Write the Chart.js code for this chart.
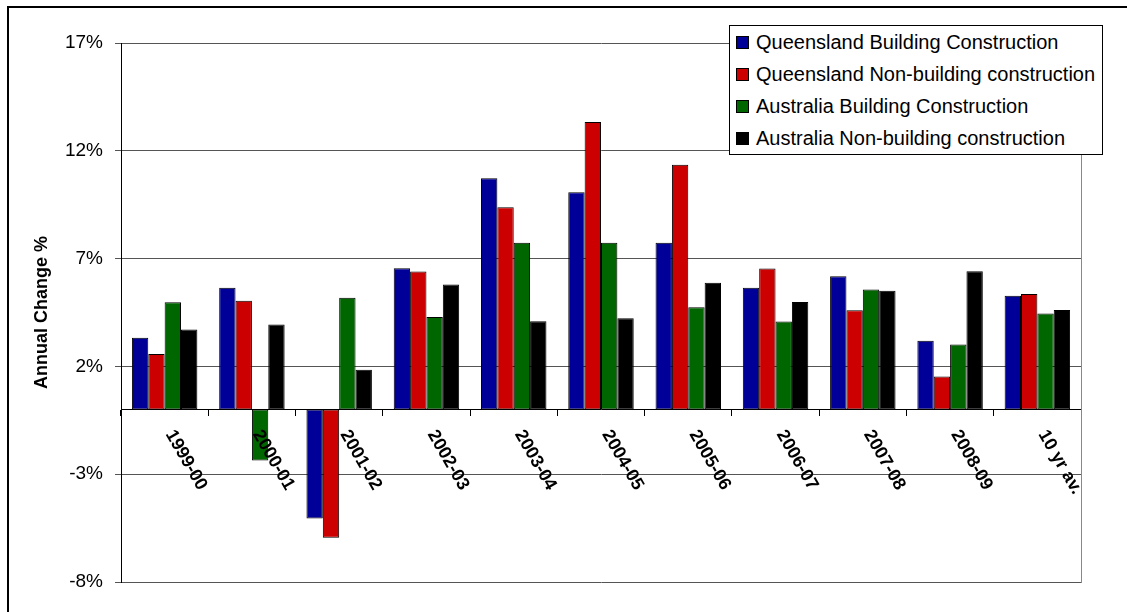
<!DOCTYPE html>
<html>
<head>
<meta charset="utf-8">
<script src="https://cdn.jsdelivr.net/npm/chart.js@4.4.0/dist/chart.umd.min.js"></script>
<style>
    body { margin: 0; background: #fff; font-family: 'Liberation Sans', Arial, sans-serif; }
    #wrap { position: relative; width: 1127px; height: 612px; overflow: hidden; background: #fff; }
    #frame { position: absolute; left: 7px; top: 6px; width: 2000px; height: 2000px; border-top: 2px solid #000; border-left: 2px solid #000; }
    #chartCanvas { position: absolute; left: 0; top: 0; }
    #legend { position: absolute; left: 729px; top: 25px; width: 372px; height: 128px; border: 1px solid #000; background: #fff; }
    .leg-row { position: absolute; left: 6px; height: 24px; display: flex; align-items: center; font-size: 20px; color: #000; white-space: nowrap; }
    .leg-swatch { width: 11px; height: 11px; border: 1px solid #000; margin-right: 7px; }
</style>
</head>
<body>
<div id="wrap">
    <div id="frame"></div>
    <canvas id="chartCanvas" width="1127" height="612"></canvas>
    <div id="legend"></div>
</div>
<script>
const categories = ['1999-00', '2000-01', '2001-02', '2002-03', '2003-04', '2004-05', '2005-06', '2006-07', '2007-08', '2008-09', '10 yr av.'];
const qldBuilding = [3.33, 5.65, -5.06, 6.55, 10.73, 10.08, 7.73, 5.65, 6.18, 3.19, 5.28];
const qldNonBuilding = [2.57, 5.05, -5.95, 6.40, 9.38, 13.34, 11.35, 6.54, 4.60, 1.53, 5.36];
const ausBuilding = [4.97, -2.36, 5.18, 4.29, 7.73, 7.73, 4.74, 4.08, 5.57, 3.02, 4.45];
const ausNonBuilding = [3.71, 3.94, 1.85, 5.80, 4.09, 4.23, 5.88, 4.99, 5.51, 6.41, 4.62];
const yTicks = [-8, -3, 2, 7, 12, 17];

const seriesNames = [
    'Queensland Building Construction',
    'Queensland Non-building construction',
    'Australia Building Construction',
    'Australia Non-building construction'
];
const seriesColors = ['#000099', '#cc0000', '#006600', '#000000'];
const seriesData = [qldBuilding, qldNonBuilding, ausBuilding, ausNonBuilding];

const fontFamily = "'Liberation Sans', Arial, sans-serif";
Chart.defaults.font.family = fontFamily;
Chart.defaults.color = '#000';

// legend box drawn as html on top of the plot, like the original
const legendEl = document.getElementById('legend');
seriesNames.forEach((name, i) => {
    const row = document.createElement('div');
    row.className = 'leg-row';
    row.style.top = (4 + i * 32.2) + 'px';
    row.innerHTML = `<span class="leg-swatch" style="background:${seriesColors[i]}"></span><span>${name}</span>`;
    legendEl.appendChild(row);
});

// category labels rotated clockwise, hanging below the zero line
const xLabelPlugin = {
    id: 'xLabels',
    afterDraw(chart) {
        const { ctx, scales: { x, y } } = chart;
        const y0 = y.getPixelForValue(0);
        ctx.save();
        ctx.font = `bold 18px ${fontFamily}`;
        ctx.fillStyle = '#000';
        ctx.textAlign = 'left';
        ctx.textBaseline = 'middle';
        categories.forEach((label, i) => {
            ctx.save();
            ctx.translate(x.getPixelForValue(i) + 5, y0 + 22);
            ctx.rotate(Math.PI / 3);
            ctx.fillText(label, 0, 0);
            ctx.restore();
        });
        ctx.restore();
    }
};

const ctx = document.getElementById('chartCanvas').getContext('2d');
new Chart(ctx, {
    type: 'bar',
    data: {
        labels: categories,
        datasets: seriesData.map((data, i) => ({
            label: seriesNames[i],
            data: data,
            backgroundColor: seriesColors[i],
            borderColor: '#000',
            borderWidth: 1,
            borderSkipped: false,
            categoryPercentage: 0.75,
            barPercentage: 1
        }))
    },
    options: {
        responsive: false,
        animation: false,
        devicePixelRatio: 1,
        layout: {
            padding: { left: 0, top: 43, right: 46, bottom: 30 }
        },
        plugins: {
            legend: { display: false },
            tooltip: { enabled: false }
        },
        scales: {
            x: {
                position: { y: 0 },
                offset: true,
                grid: {
                    display: true,
                    drawOnChartArea: false,
                    drawTicks: true,
                    tickLength: 6,
                    offset: true,
                    color: '#000'
                },
                border: { display: true, color: '#000', width: 1 },
                ticks: { display: false }
            },
            y: {
                min: -8,
                max: 17,
                afterBuildTicks: s => { s.ticks = yTicks.map(v => ({ value: v })); },
                afterFit: s => { s.width = 121; },
                grid: { color: '#555', tickLength: 6, drawTicks: true },
                border: { color: '#000', width: 1 },
                ticks: {
                    padding: 12,
                    color: '#000',
                    font: { size: 19 },
                    callback: v => v + '%'
                },
                title: {
                    display: true,
                    text: 'Annual Change %',
                    color: '#000',
                    font: { size: 18, weight: 'bold' },
                    padding: { top: 31, bottom: 0 }
                }
            },
            y2: {
                position: 'right',
                display: true,
                grid: { drawOnChartArea: false, drawTicks: false },
                ticks: { display: false },
                border: { color: '#888', width: 1 }
            }
        }
    },
    plugins: [xLabelPlugin]
});
</script>
</body>
</html>
